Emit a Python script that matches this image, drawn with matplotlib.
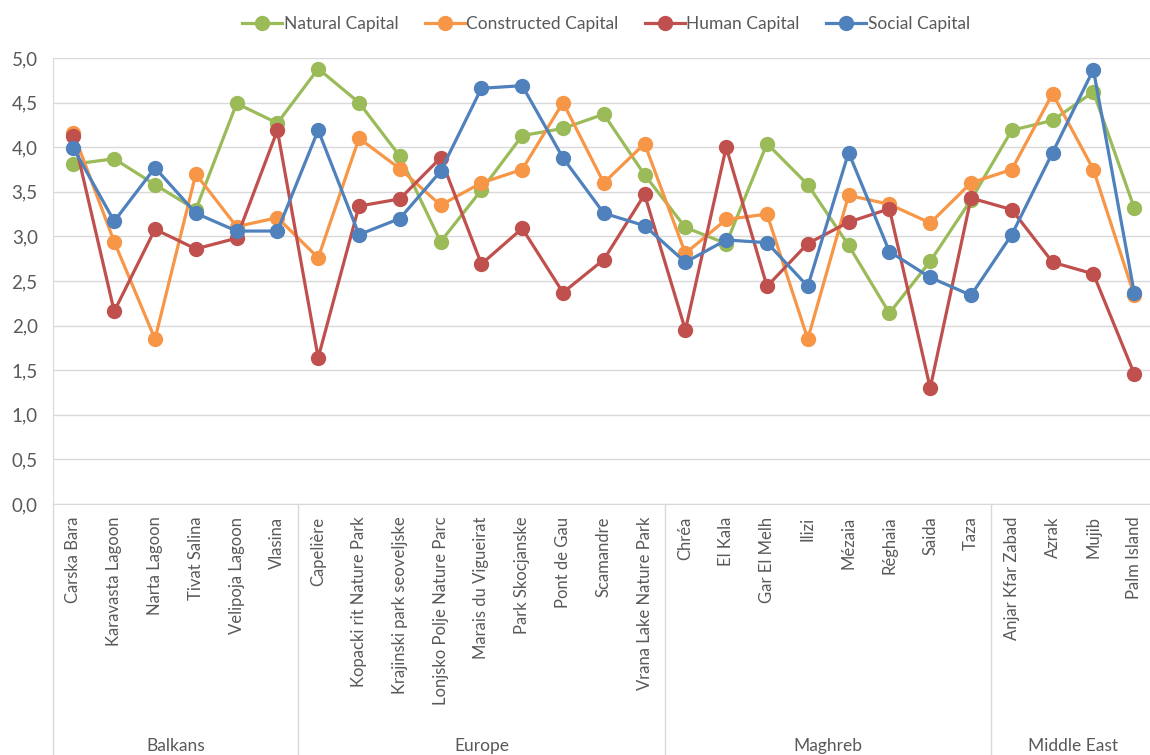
import matplotlib.pyplot as plt
from matplotlib.ticker import FuncFormatter

# sites and regions
sites = ['Carska Bara', 'Karavasta Lagoon', 'Narta Lagoon', 'Tivat Salina', 'Velipoja Lagoon', 'Vlasina',
         'Capelière', 'Kopacki rit Nature Park', 'Krajinski park seoveljske', 'Lonjsko Polje Nature Parc',
         'Marais du Vigueirat', 'Park Skocjanske', 'Pont de Gau', 'Scamandre', 'Vrana Lake Nature Park',
         'Chréa', 'El Kala', 'Gar El Melh', 'Ilizi', 'Mézaia', 'Réghaia', 'Saida', 'Taza',
         'Anjar Kfar Zabad', 'Azrak', 'Mujib', 'Palm Island']
regions = ['Balkans', 'Europe', 'Maghreb', 'Middle East']
region_sizes = [6, 9, 8, 4]

natural = [3.81, 3.87, 3.58, 3.30, 4.49, 4.27,
           4.88, 4.50, 3.90, 2.94, 3.52, 4.13, 4.21, 4.37, 3.69,
           3.10, 2.92, 4.04, 3.58, 2.90, 2.14, 2.72, 3.41,
           4.19, 4.30, 4.62, 3.32]
constructed = [4.16, 2.94, 1.85, 3.70, 3.11, 3.21,
               2.76, 4.10, 3.76, 3.35, 3.60, 3.75, 4.50, 3.60, 4.04,
               2.81, 3.19, 3.25, 1.85, 3.46, 3.36, 3.15, 3.60,
               3.75, 4.60, 3.75, 2.34]
human = [4.13, 2.16, 3.08, 2.86, 2.98, 4.19,
         1.64, 3.34, 3.42, 3.88, 2.69, 3.09, 2.37, 2.74, 3.47,
         1.95, 4.00, 2.44, 2.92, 3.16, 3.31, 1.30, 3.43,
         3.30, 2.71, 2.58, 1.46]
social = [3.99, 3.17, 3.77, 3.26, 3.06, 3.06,
          4.19, 3.02, 3.20, 3.73, 4.66, 4.69, 3.88, 3.26, 3.12,
          2.71, 2.96, 2.93, 2.44, 3.94, 2.83, 2.54, 2.34,
          3.02, 3.94, 4.87, 2.37]

series = [('Natural Capital', natural, '#9BBB59'),
          ('Constructed Capital', constructed, '#F79646'),
          ('Human Capital', human, '#C0504D'),
          ('Social Capital', social, '#4F81BD')]

plt.rcParams['font.family'] = ['Lato', 'DejaVu Sans']

fig = plt.figure(figsize=(11.5, 7.55), dpi=100)
ax = fig.add_axes([53/1150, 1 - 504/755, 1 - 53/1150, 446/755])

x = list(range(len(sites)))
for name, vals, col in series:
    ax.plot(x, vals, color=col, lw=2.3, marker='o', markersize=10, label=name)

ax.set_ylim(0, 5)
ax.set_xlim(-0.5, -0.5 + 1097/40.8)
ax.set_yticks([i * 0.5 for i in range(11)])
ax.yaxis.set_major_formatter(FuncFormatter(lambda v, p: f'{v:.1f}'.replace('.', ',')))
ax.grid(axis='y', color='#D9D9D9', lw=1)
ax.set_axisbelow(True)
for s in ['top', 'right']:
    ax.spines[s].set_visible(False)
ax.spines['left'].set_color('#D9D9D9')
ax.spines['bottom'].set_color('#D9D9D9')
ax.tick_params(axis='y', length=0, pad=11, labelsize=13.5, labelcolor='#595959')

ax.set_xticks(x)
ax.set_xticklabels(sites, rotation=90, ha='center', va='top')
ax.tick_params(axis='x', length=0, pad=9, labelsize=12, labelcolor='#595959')

# region separators and labels
trans = ax.get_xaxis_transform()
start = 0
bottom = (504 - 755) / 446
for reg, n in zip(regions, region_sizes):
    ax.plot([start - 0.5, start - 0.5], [0, bottom], color='#D9D9D9', lw=1,
            transform=trans, clip_on=False)
    ax.text(start + (n - 1) / 2, (504 - 746) / 446, reg, transform=trans,
            ha='center', va='center', fontsize=12.5, color='#595959')
    start += n

fig.legend(loc='upper center', bbox_to_anchor=(0.527, 1.0), ncol=4, frameon=False,
           fontsize=12.5, handlelength=2.3, handletextpad=0.1, columnspacing=1.5,
           labelcolor='#595959')

plt.savefig('out.png', dpi=100)
